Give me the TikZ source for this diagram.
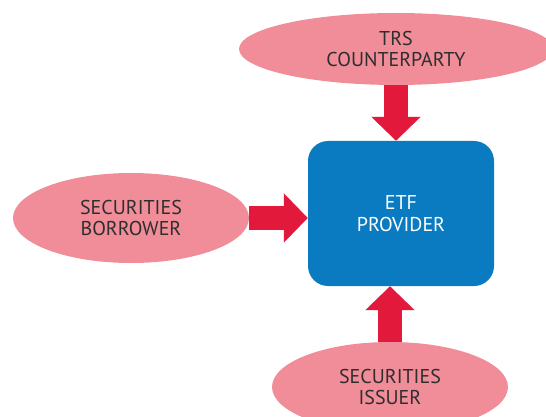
\documentclass[tikz,border=0pt]{standalone}
\usepackage{fontspec}
\setmainfont{PT Sans}
\usetikzlibrary{shapes.geometric,arrows.meta,backgrounds}
\definecolor{pinkfill}{HTML}{F08D99}
\definecolor{redarrow}{HTML}{E2193A}
\definecolor{bluebox}{HTML}{0A7BC1}
\definecolor{txtgray}{HTML}{2E2E2E}
\tikzset{
  party/.style={ellipse, fill=pinkfill, draw=none, text=txtgray, align=center,
    font=\fontsize{20}{21.5}\selectfont, inner sep=0pt},
  bigarrow/.style={draw=redarrow, line width=24pt,
    -{Triangle[length=24pt,width=48pt,fill=redarrow]}},
}
\begin{document}
\begin{tikzpicture}[x=1pt,y=-1pt]
\useasboundingbox (0,0) rectangle (546,417);
\clip (0,0) rectangle (546,417);
\node[fill=bluebox, rounded corners=20pt, minimum width=186pt, minimum height=145pt,
  text=white, align=center, font=\fontsize{20}{21.5}\selectfont, inner sep=0pt]
  (etf) at (401,213.5) {ETF\\PROVIDER};
\node[party, minimum width=314pt, minimum height=72pt] (trs) at (396,49) {TRS\\COUNTERPARTY};
\node[party, minimum width=236pt, minimum height=90pt] (bor) at (131,218) {SECURITIES\\BORROWER};
\node[party, minimum width=236pt, minimum height=90pt] (iss) at (390,387) {SECURITIES\\ISSUER};
\begin{pgfonlayer}{background}
\draw[bigarrow] (trs.south) -- (trs.south |- etf.north);
\draw[bigarrow] ([yshift=-2pt]iss.north) -- (iss.north |- etf.south);
\draw[bigarrow] (bor.east) -- (bor.east -| etf.west);
\end{pgfonlayer}
\end{tikzpicture}
\end{document}
